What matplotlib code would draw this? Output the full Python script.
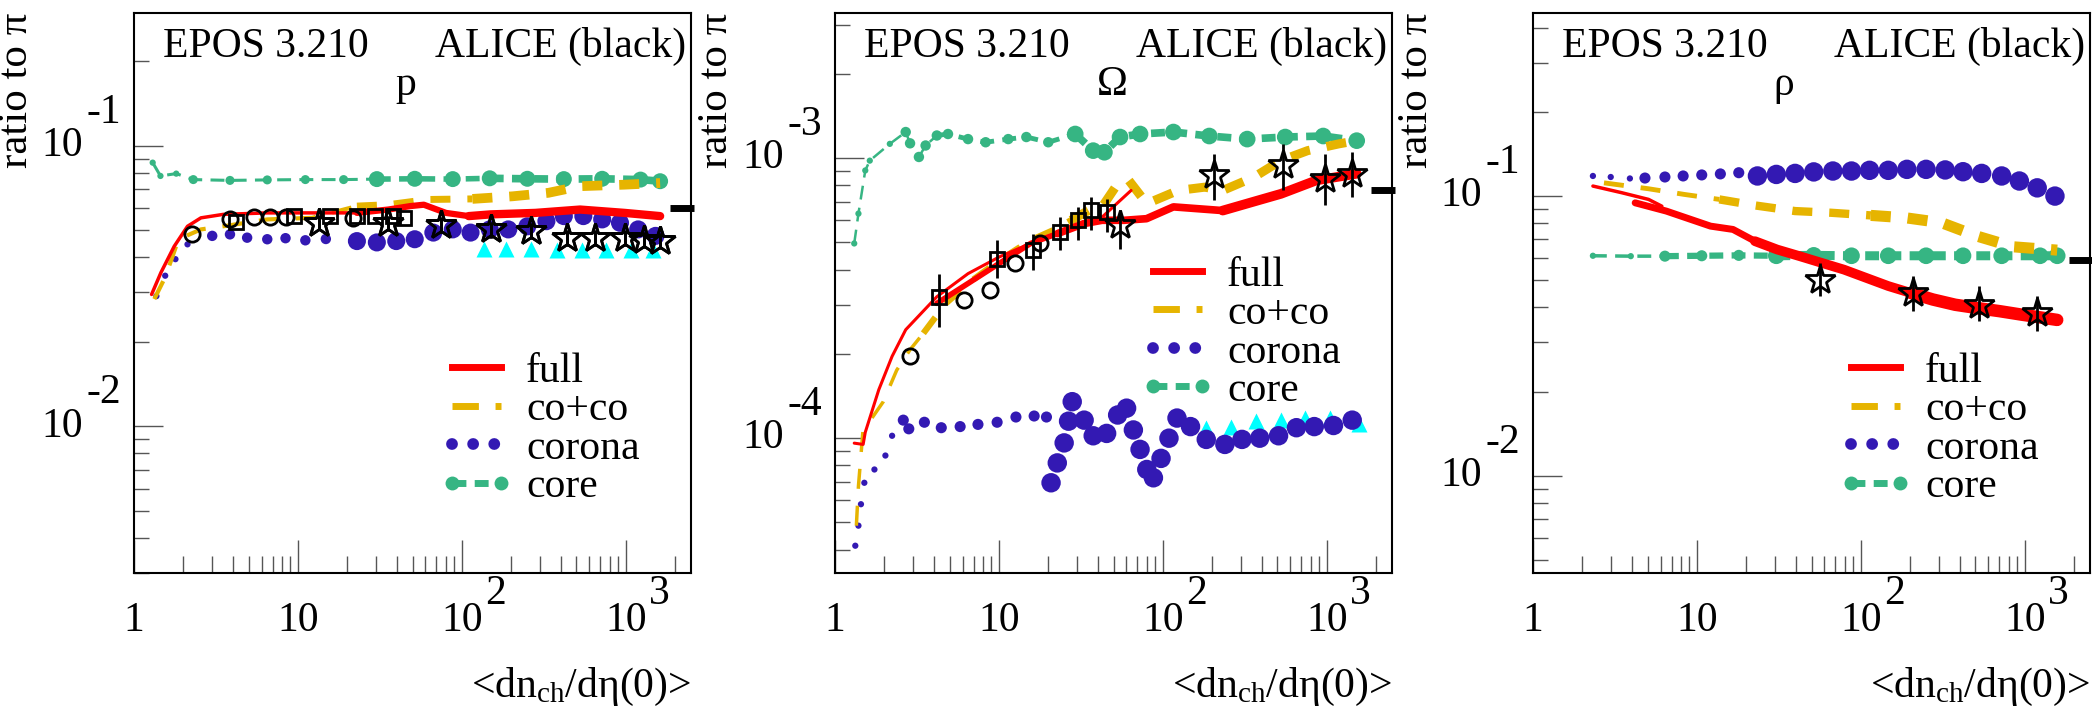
import numpy as np
import matplotlib
matplotlib.use('Agg')
import matplotlib.pyplot as plt
from matplotlib.lines import Line2D

plt.rcParams['font.family'] = ['Liberation Serif', 'DejaVu Serif']
plt.rcParams['mathtext.fontset'] = 'custom'
plt.rcParams['mathtext.rm'] = 'Liberation Serif'
plt.rcParams['mathtext.it'] = 'Liberation Serif:italic'
plt.rcParams['lines.scale_dashes'] = False

RED = '#ff0000'
ORANGE = '#e6b400'
BLUE = '#3319b3'
GREEN = '#36b583'
CYAN = '#00ffff'

# ---------------- data: proton / pion ----------------
p_full_x = [1.28, 1.46, 1.76, 2.12, 2.56, 3.5, 6.5, 12.2, 22.9, 35.5, 48.5, 58.6, 80, 110, 150, 281, 526, 983, 1620]
p_full_y = [0.0295, 0.0353, 0.0438, 0.0516, 0.0553, 0.0569, 0.0576, 0.0576, 0.0576, 0.0592, 0.0609, 0.0616,
            0.0576, 0.0561, 0.0569, 0.0576, 0.0592, 0.0576, 0.0561]
p_coco_x = [1.33, 1.55, 1.87, 2.56, 3.5, 6.5, 12.2, 22.9, 35.5, 62.4, 116, 204, 337, 526, 983, 1620]
p_coco_y = [0.0284, 0.034, 0.0464, 0.0503, 0.0516, 0.0546, 0.0553, 0.0609, 0.0616, 0.0643, 0.0646, 0.066,
            0.0679, 0.0717, 0.0726, 0.0736]
p_corona_x = [1.37, 1.55, 1.79, 2.12, 3.0, 3.85, 4.9, 6.5, 8.4, 11.1, 14.8, 22.9, 30.3, 39.8, 51.6, 67, 88,
              113, 148, 192, 251, 328, 419, 551, 718, 922, 1190, 1520]
p_corona_y = [0.0291, 0.0344, 0.0394, 0.0445, 0.0477, 0.0483, 0.0470, 0.0464, 0.0468, 0.0460, 0.0465, 0.0457,
              0.0452, 0.0457, 0.0464, 0.0490, 0.0503, 0.0490, 0.0503, 0.0503, 0.0516, 0.0538, 0.0561, 0.0561,
              0.0546, 0.0531, 0.0503, 0.0477]
p_core_x = [1.3, 1.45, 1.81, 2.3, 3.85, 6.5, 11.1, 19, 30.3, 51.6, 88, 148, 251, 419, 718, 1230, 1620]
p_core_y = [0.087, 0.078, 0.0795, 0.0757, 0.0752, 0.0755, 0.0757, 0.0757, 0.0760, 0.0762, 0.0760, 0.0765,
            0.0762, 0.0760, 0.0762, 0.0757, 0.0747]
p_circ_x = [2.26, 3.85, 5.4, 6.75, 8.4, 21.6]
p_circ_y = [0.0483, 0.0546, 0.0558, 0.0558, 0.0558, 0.0553]
p_sq_x = [4.2, 9.5, 15.7, 22.9, 29.5, 37.9, 44.2]
p_sq_y = [0.0534, 0.0561, 0.0561, 0.0561, 0.0561, 0.0561, 0.0553]
p_star_x = [13.4, 35.5, 75, 150, 263, 436, 650, 983, 1300, 1620]
p_star_y = [0.0531, 0.0528, 0.0523, 0.0503, 0.0496, 0.0470, 0.0470, 0.0470, 0.0463, 0.0457]
p_star_lo = [0.050, 0.0497, 0.049, 0.047, 0.0465, 0.044, 0.044, 0.044, 0.0433, 0.0428]
p_star_hi = [0.0565, 0.056, 0.0556, 0.0535, 0.0528, 0.050, 0.050, 0.050, 0.0493, 0.0487]
p_cyan_x = [136, 187, 263, 383, 540, 760, 1070, 1470]
p_cyan_y = [0.0428, 0.0428, 0.0427, 0.0425, 0.0425, 0.0425, 0.0425, 0.0425]
p_edge = 0.060

# ---------------- data: Omega / pion ----------------
om_full_lo_x = [1.31, 1.485, 1.53, 1.85, 2.23, 2.7, 4.18, 6.48, 10.05, 15.6, 22.8, 33, 42.6, 64]
om_full_lo_y = [9.6e-5, 9.5e-5, 1.05e-4, 1.49e-4, 1.96e-4, 2.44e-4, 3.2e-4, 3.87e-4, 4.44e-4, 4.96e-4,
                5.38e-4, 5.84e-4, 6.16e-4, 7.67e-4]
om_full_hi_x = [4.18, 6.48, 10.05, 15.6, 22.8, 33, 42.6, 58, 79.5, 116, 232, 382, 526, 863, 1523]
om_full_hi_y = [3.03e-4, 3.57e-4, 4.21e-4, 4.96e-4, 5.38e-4, 5.84e-4, 6.0e-4, 6.0e-4, 6.08e-4, 6.7e-4,
                6.5e-4, 7.07e-4, 7.46e-4, 8.33e-4, 8.8e-4]
om_coco_x = [1.35, 1.39, 1.48, 1.97, 2.38, 2.87, 3.46, 4.74, 6.9, 10.1, 15.6, 21.4, 27.5, 35.3, 42.6, 53, 62,
             79.8, 124, 180, 232, 360, 524, 764, 1185, 1523]
om_coco_y = [4.87e-5, 6.74e-5, 1.06e-4, 1.35e-4, 1.75e-4, 2.07e-4, 2.37e-4, 3.03e-4, 3.67e-4, 4.32e-4,
             5.09e-4, 5.53e-4, 6.0e-4, 6.51e-4, 6.7e-4, 8.1e-4, 8.33e-4, 6.88e-4, 7.67e-4, 7.88e-4,
             7.67e-4, 8.56e-4, 9.8e-4, 1.064e-3, 1.125e-3, 1.155e-3]
om_corona_x = [1.33, 1.39, 1.44, 1.51, 1.74, 2.03, 2.23, 2.61, 2.82, 3.51, 4.45, 5.8, 7.45, 9.75, 12.7, 16.4,
               19.5, 20.8, 22.7, 25, 26.6, 28, 33.1, 37.6, 45.4, 53, 60.1, 66.1, 72.6, 79.8, 87.6, 97.5, 109,
               122, 147.5, 184, 239, 304, 390, 508, 653, 839, 1099, 1430]
om_corona_y = [4.13e-5, 4.87e-5, 5.81e-5, 6.93e-5, 7.73e-5, 8.67e-5, 1.02e-4, 1.16e-4, 1.08e-4, 1.14e-4,
               1.09e-4, 1.10e-4, 1.12e-4, 1.14e-4, 1.19e-4, 1.2e-4, 1.19e-4, 6.93e-5, 8.16e-5, 9.62e-5,
               1.15e-4, 1.35e-4, 1.16e-4, 1.02e-4, 1.04e-4, 1.21e-4, 1.28e-4, 1.07e-4, 9.12e-5, 7.73e-5,
               7.22e-5, 8.47e-5, 1.0e-4, 1.18e-4, 1.1e-4, 9.9e-5, 9.5e-5, 9.9e-5, 1.0e-4, 1.02e-4,
               1.09e-4, 1.1e-4, 1.11e-4, 1.16e-4]
om_core_x = [1.31, 1.39, 1.53, 1.63, 2.16, 2.7, 2.87, 3.25, 3.57, 4.18, 4.89, 6.48, 8.3, 11.4, 14.7, 20, 29.2,
             37.6, 44, 54.8, 72.6, 116, 192, 327, 558, 951, 1523]
om_core_y = [4.96e-4, 6.34e-4, 9.04e-4, 9.8e-4, 1.125e-3, 1.24e-3, 1.13e-3, 1.01e-3, 1.11e-3, 1.205e-3,
             1.22e-3, 1.17e-3, 1.14e-3, 1.17e-3, 1.19e-3, 1.14e-3, 1.22e-3, 1.064e-3, 1.05e-3, 1.19e-3,
             1.22e-3, 1.24e-3, 1.2e-3, 1.17e-3, 1.19e-3, 1.2e-3, 1.155e-3]
om_circ_x = [2.87, 6.09, 8.88, 12.5, 17.7]
om_circ_y = [1.96e-4, 3.11e-4, 3.38e-4, 4.21e-4, 4.96e-4]
om_sq_x = [4.31, 9.75, 16.1, 23.5, 30.2, 36.4, 45.4]
om_sq_y = [3.2e-4, 4.38e-4, 4.69e-4, 5.46e-4, 6.0e-4, 6.51e-4, 6.42e-4]
om_sq_lo = [2.5e-4, 3.72e-4, 3.98e-4, 4.69e-4, 5.09e-4, 5.53e-4, 5.46e-4]
om_sq_hi = [3.87e-4, 5.09e-4, 5.38e-4, 6.16e-4, 6.7e-4, 7.26e-4, 7.16e-4]
om_star_x = [54.8, 205, 541, 982, 1430]
om_star_y = [5.75e-4, 8.68e-4, 9.42e-4, 8.44e-4, 8.8e-4]
om_star_lo = [4.75e-4, 7.07e-4, 7.67e-4, 6.79e-4, 7.26e-4]
om_star_hi = [6.51e-4, 1.036e-3, 1.125e-3, 1.036e-3, 1.05e-3]
om_cyan_x = [184, 262, 370, 526, 740, 1040, 1570]
om_cyan_y = [1.09e-4, 1.1e-4, 1.15e-4, 1.16e-4, 1.18e-4, 1.18e-4, 1.12e-4]
om_edge = 7.7e-4

# ---------------- data: rho / pion ----------------
rho_full_lo_x = [2.32, 3.48, 5.07, 6.11]
rho_full_lo_y = [0.1086, 0.1028, 0.0973, 0.092]
rho_full_hi_x = [4.2, 6.5, 12.1, 16.6, 22.6, 30.9, 42.3, 57.8, 78.9, 108, 147, 201, 275, 376, 513, 701, 957, 1577]
rho_full_hi_y = [0.0946, 0.0884, 0.0781, 0.076, 0.069, 0.0644, 0.061, 0.0577, 0.0546, 0.051, 0.0477, 0.0451,
                 0.0427, 0.0409, 0.0398, 0.0388, 0.0377, 0.0361]
rho_coco_x = [2.71, 5.07, 8.35, 13.7, 22.6, 39.7, 65.4, 115, 189, 311, 513, 845, 1577]
rho_coco_y = [0.1115, 0.1062, 0.1014, 0.0973, 0.0926, 0.0884, 0.0872, 0.0853, 0.0836, 0.0803, 0.0719,
              0.0659, 0.0641]
rho_corona_x = [2.32, 2.98, 3.9, 4.82, 6.38, 8.24, 10.7, 13.9, 18, 23.4, 30.5, 39.7, 51.6, 67.5, 87.7, 113,
                147, 191, 250, 327, 420, 546, 723, 927, 1191, 1528]
rho_corona_y = [0.118, 0.117, 0.1156, 0.116, 0.117, 0.118, 0.119, 0.120, 0.1212, 0.118, 0.1195, 0.1205,
                0.122, 0.1229, 0.1229, 0.1236, 0.1236, 0.1246, 0.1246, 0.124, 0.1222, 0.1205, 0.118,
                0.1132, 0.107, 0.100]
rho_core_x = [2.32, 3.95, 6.38, 10.7, 18, 30.5, 51.6, 87.7, 147, 250, 420, 723, 1240, 1577]
rho_core_y = [0.0612, 0.0610, 0.0610, 0.0612, 0.0614, 0.0612, 0.0614, 0.0612, 0.0612, 0.0612, 0.0612,
              0.0612, 0.0612, 0.0612]
rho_star_x = [56, 208, 529, 1191]
rho_star_y = [0.0503, 0.0451, 0.0409, 0.0382]
rho_star_lo = [0.0439, 0.0388, 0.0357, 0.0329]
rho_star_hi = [0.0577, 0.0518, 0.0477, 0.0439]
rho_edge = 0.0593

particles = ['p', 'Ω', 'ρ']
ylims = [(3.0e-3, 0.297), (3.3e-5, 3.3e-3), (4.5e-3, 0.451)]
ydecades = [(-2, -1), (-4, -3), (-2, -1)]
XMAX = 2500


def steps(x, cuts, vals):
    return np.asarray(vals, float)[np.searchsorted(cuts, x)]


def stepped_line(ax, x, y, cuts, widths, **kw):
    # ROOT-like: line gets thicker with multiplicity
    x = np.asarray(x, float)
    y = np.asarray(y, float)
    lev = np.searchsorted(cuts, x)
    for L in np.unique(lev):
        idx = np.nonzero(lev == L)[0]
        i0, i1 = idx[0], min(idx[-1] + 1, len(x) - 1)
        ax.plot(x[i0:i1 + 1], y[i0:i1 + 1], lw=widths[L], **kw)


def dots(ax, x, y, cuts, sizes, color, z):
    x = np.asarray(x, float)
    ax.scatter(x, y, s=steps(x, cuts, sizes) ** 2, c=color, edgecolors='none', zorder=z)


def decorate(ax, k, left_px):
    ax.set_xscale('log')
    ax.set_yscale('log')
    ax.set_xlim(1, XMAX)
    ax.set_ylim(*ylims[k])
    for s in ax.spines.values():
        s.set_linewidth(1.5)
    ax.tick_params(which='both', direction='in', top=False, right=False,
                   labelbottom=False, labelleft=False, color='#555555', width=1)
    ax.tick_params(axis='y', which='major', length=21)
    ax.tick_params(axis='y', which='minor', length=11)
    ax.tick_params(axis='x', which='major', length=24)
    ax.tick_params(axis='x', which='minor', length=12)

    fs = 30
    tx = ax.get_xaxis_transform()
    for d in range(0, 4):
        v = 10.0 ** d
        base = '1' if d == 0 else '10'
        ax.annotate(base, (v, 0), xycoords=tx, xytext=(0, -34.6), textcoords='offset points',
                    ha='center', va='center', fontsize=fs)
        if d >= 2:
            ax.annotate(str(d), (v, 0), xycoords=tx, xytext=(24.5, -15), textcoords='offset points',
                        ha='center', va='center', fontsize=fs)
    ty = ax.get_yaxis_transform()
    for d in ydecades[k]:
        v = 10.0 ** d
        ax.annotate('10', (0, v), xycoords=ty, xytext=(-36.5, 0), textcoords='offset points',
                    ha='right', va='center', fontsize=fs)
        ax.annotate(str(d), (0, v), xycoords=ty, xytext=(-9.4, 23.8), textcoords='offset points',
                    ha='right', va='center', fontsize=fs)

    ax.set_ylabel('ratio to π', fontsize=31)
    ax.yaxis.label.set(ha='center', va='top', rotation_mode='default')
    ax.yaxis.set_label_coords((17 - left_px) / 557.0, 1.0)
    ax.set_xlabel(r'<dn$_{\mathrm{ch}}$/dη(0)>', fontsize=30)
    ax.xaxis.label.set(ha='right', va='center')
    ax.xaxis.set_label_coords(1.0, -0.204)

    ax.text(0.052, 0.9215, 'EPOS 3.210', transform=ax.transAxes, fontsize=30, va='baseline')
    ax.text(0.992, 0.9215, 'ALICE (black)', transform=ax.transAxes, fontsize=30, va='baseline', ha='right')
    px = [0.488, 0.497, 0.45][k]
    ax.text(px, 0.853, particles[k], transform=ax.transAxes, fontsize=30, va='baseline', ha='center')


def legend(ax, top):
    handles = [
        Line2D([], [], color=RED, lw=5),
        Line2D([], [], color=ORANGE, lw=5, ls=(0, (19, 12))),
        Line2D([], [], color=BLUE, lw=8.5, ls=(0, (0.01, 15.2)), dash_capstyle='round'),
        Line2D([], [], color=GREEN, lw=5, ls=(0, (10, 6)), marker='o', ms=10, mec='none'),
    ]
    ax.legend(handles, ['full', 'co+co', 'corona', 'core'], loc='upper left',
              bbox_to_anchor=(0.548, top), bbox_transform=ax.transAxes, frameon=False,
              fontsize=30, handlelength=1.78, handletextpad=0.3, labelspacing=0.0,
              borderpad=0, borderaxespad=0, numpoints=2)


def edge_mark(ax, y):
    ax.plot([0.984], [y], transform=ax.get_yaxis_transform(), marker='_', ms=17, mew=5,
            color='k', clip_on=False, zorder=6)


def alice(ax, cx, cy, sx, sy, s_err, stx, sty, st_err, tx=None, ty=None):
    if tx is not None:
        ax.plot(tx, ty, ls='none', marker='^', ms=12, color=CYAN, mec='none', zorder=3)
    if cx is not None:
        ax.plot(cx, cy, ls='none', marker='o', ms=11, mfc='none', mec='k', mew=2, zorder=7)
    if sx is not None:
        if s_err is not None:
            lo, hi = s_err
            ax.errorbar(sx, sy, yerr=[np.subtract(sy, lo), np.subtract(hi, sy)], fmt='none',
                        ecolor='k', elinewidth=2, capsize=0, zorder=7)
        ax.plot(sx, sy, ls='none', marker='s', ms=10, mfc='none', mec='k', mew=2, zorder=7)
    lo, hi = st_err
    ax.errorbar(stx, sty, yerr=[np.subtract(sty, lo), np.subtract(hi, sty)], fmt='none',
                ecolor='k', elinewidth=2, capsize=0, zorder=7)
    ax.plot(stx, sty, ls='none', marker='*', ms=22, mfc='none', mec='k', mew=2, zorder=7)


fig = plt.figure(figsize=(20.92, 7.14), dpi=100)
W, H = 2092.0, 714.0
lefts = [134, 835, 1533]
axes = [fig.add_axes([l / W, 141 / H, 557 / W, 560 / H]) for l in lefts]

core_dash = dict(color=GREEN, ls=(0, (10, 6)), solid_capstyle='butt', dash_capstyle='butt', zorder=4)
coco_dash = dict(color=ORANGE, ls=(0, (14.4, 12.2)), dash_capstyle='butt', zorder=5)

# panel 1: p
ax = axes[0]
stepped_line(ax, p_core_x, p_core_y, [20, 100], [2.2, 4, 5.5], **core_dash)
dots(ax, p_core_x, p_core_y, [2.0, 25], [4.5, 6.5, 11.5], GREEN, 4)
dots(ax, p_corona_x, p_corona_y, [2.5, 20], [4.5, 7.5, 13], BLUE, 3)
alice(ax, None, None, None, None, None, p_star_x, p_star_y, (p_star_lo, p_star_hi), p_cyan_x, p_cyan_y)
stepped_line(ax, p_coco_x, p_coco_y, [20, 100], [3, 5, 7], **coco_dash)
stepped_line(ax, p_full_x, p_full_y, [20, 100], [2.5, 4.5, 6], color=RED, solid_capstyle='round', zorder=5)
alice(ax, p_circ_x, p_circ_y, p_sq_x, p_sq_y, None, p_star_x, p_star_y, (p_star_lo, p_star_hi))
edge_mark(ax, p_edge)
decorate(ax, 0, lefts[0])
legend(ax, 0.394)

# panel 2: Omega
ax = axes[1]
stepped_line(ax, om_core_x, om_core_y, [4, 25], [1.8, 3.5, 5.5], **core_dash)
dots(ax, om_core_x, om_core_y, [2.5, 25], [4.5, 7.5, 12], GREEN, 4)
ax.plot(om_cyan_x, om_cyan_y, ls='none', marker='^', ms=12, color=CYAN, mec='none', zorder=3)
dots(ax, om_corona_x, om_corona_y, [2.5, 20], [4.5, 8, 14], BLUE, 3)
stepped_line(ax, om_coco_x, om_coco_y, [3, 25], [2.5, 4.5, 6.5], **coco_dash)
ax.plot(om_full_lo_x, om_full_lo_y, color=RED, lw=2.2, solid_capstyle='round', zorder=5)
stepped_line(ax, om_full_hi_x, om_full_hi_y, [20, 200], [4, 5.5, 7], color=RED,
             solid_capstyle='round', zorder=5)
alice(ax, om_circ_x, om_circ_y, om_sq_x, om_sq_y, (om_sq_lo, om_sq_hi),
      om_star_x, om_star_y, (om_star_lo, om_star_hi))
edge_mark(ax, om_edge)
decorate(ax, 1, lefts[1] - 700)
legend(ax, 0.566)

# panel 3: rho
ax = axes[2]
stepped_line(ax, rho_core_x, rho_core_y, [5, 25], [2.5, 4.5, 6.5], **core_dash)
dots(ax, rho_core_x, rho_core_y, [5, 25], [4.5, 8, 12], GREEN, 4)
dots(ax, rho_corona_x, rho_corona_y, [4, 20], [4.5, 8, 14], BLUE, 3)
stepped_line(ax, rho_coco_x, rho_coco_y, [10, 100], [3.5, 6, 8], **coco_dash)
ax.plot(rho_full_lo_x, rho_full_lo_y, color=RED, lw=2.5, solid_capstyle='round', zorder=5)
stepped_line(ax, rho_full_hi_x, rho_full_hi_y, [20, 200], [5, 7, 9], color=RED,
             solid_capstyle='round', zorder=5)
alice(ax, None, None, None, None, None, rho_star_x, rho_star_y, (rho_star_lo, rho_star_hi))
edge_mark(ax, rho_edge)
decorate(ax, 2, lefts[2] - 1400)
legend(ax, 0.394)

fig.savefig('out.png', dpi=100, facecolor='white')
